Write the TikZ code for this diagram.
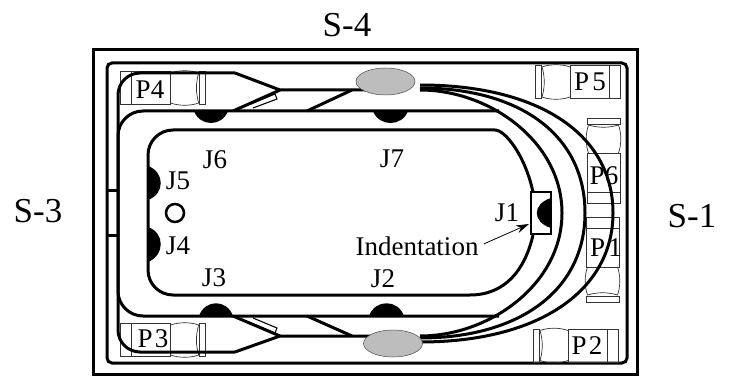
\documentclass[tikz,border=0pt]{standalone}
\usepackage{fontspec}
\setmainfont{Liberation Serif}
\usetikzlibrary{arrows.meta}
\definecolor{padgray}{HTML}{BDBDBD}
\tikzset{
	track/.style={line width=3pt},
	thinpart/.style={line width=0.7pt, black!80},
	smalllabel/.style={inner sep=0pt, font=\fontsize{27}{27}\selectfont},
	sidelabel/.style={inner sep=0pt, font=\fontsize{35}{35}\selectfont},
	pad/.style={draw=black!70, line width=0.5pt, fill=padgray}
}
\begin{document}
\begin{tikzpicture}[x=1pt,y=-1pt]
	\useasboundingbox (0,0) rectangle (729,377);
	% case
	\draw [track] (93,50) rectangle (637,374);
	\draw [track, rounded corners=5pt] (107,63) rectangle (627,363);
	\draw [track] (107,191) -- (118,191);
	\draw [track] (107,236) -- (118,236);
	% connectors
	\foreach \px/\py/\rot in {120.7/88/0, 120.7/340/0, 620/82/180, 618/345.5/180, 603.5/203/90, 602.5/217/270}{
		\begin{scope}[shift={(\px,\py)}, rotate=\rot]
			\draw [thinpart] (0,-16.5) rectangle (50,16.5);
			\draw [thinpart] (11,-16.5) -- (11,16.5);
			\draw [thinpart] (50,-15) .. controls (58,-18) and (70,-18) .. (78,-15) .. controls (75,-5) and (75,5) .. (78,15) .. controls (70,18) and (58,18) .. (50,15);
			\draw [thinpart] (79,-16.5) rectangle (85,16.5);
		\end{scope}
	}
	% tracks
	\draw [track, rounded corners=25pt] (533,192) .. controls (525,155) and (505,130) .. (470,130) -- (148,130) -- (148,295) -- (470,295);
	\draw [track] (470,295) .. controls (505,295) and (525,270) .. (533,235);
	\draw [track, rounded corners=25pt] (499,111) -- (118,111) -- (118,316) -- (499,316);
	\draw [track, rounded corners=22pt] (235,73) -- (118,73) -- (118,352) -- (235,352);
	\draw [track, line join=miter] (385,90) -- (280,90) -- (235,73);
	\draw [track, line join=miter] (393,336) -- (280,336) -- (235,352);
	\draw [track] (280,90) -- (233,111);
	\draw [track] (280,336) -- (233,316);
	\draw [track] (352,90) -- (307,111);
	\draw [track] (352,336) -- (307,316);
	\draw [line width=1.1pt] (251,104) -- (275,94) -- (277,99) -- (253,108);
	\draw [line width=1.1pt] (251,323) -- (275,333) -- (277,328) -- (253,318);
	% right hand curves
	\draw [track] (420,90) .. controls (490,90) and (562,142) .. (562,213) .. controls (562,284) and (490,336) .. (420,336);
	\draw [track] (420,88) .. controls (520,88) and (585,135) .. (585,213) .. controls (585,290) and (520,338) .. (420,338);
	\draw [track] (420,85) .. controls (540,85) and (613,135) .. (613,213) .. controls (613,290) and (540,342) .. (420,342);
	% pads
	\path [pad] (385.5,81.5) ellipse [x radius=29.5, y radius=13.5];
	\path [pad] (393,343.5) ellipse [x radius=29.5, y radius=13.5];
	% joints
	\fill (194,111) .. controls (200,127) and (222,127) .. (228,111) -- cycle;
	\fill (373,111) .. controls (379,127) and (402,127) .. (408,111) -- cycle;
	\fill (199,316) .. controls (205,299) and (227,299) .. (233,316) -- cycle;
	\fill (369,316) .. controls (375,299) and (398,299) .. (404,316) -- cycle;
	\fill (148,166) .. controls (165,172) and (165,194) .. (148,200) -- cycle;
	\fill (148,227) .. controls (165,233) and (165,255) .. (148,262) -- cycle;
	% indentation
	\draw [line width=2.7pt, fill=white] (531,192) rectangle (551,234);
	\fill (551,198) .. controls (532,204) and (532,222) .. (551,228) -- cycle;
	\draw [line width=2.5pt] (175,213) circle (9);
	% labels
	\node [smalllabel] (labelpfour) at (150,90) {P4};
	\node [smalllabel] (labelpthree) at (153,339) {P\kern2pt 3};
	\node [smalllabel] (labelpfive) at (590,82) {P\kern3pt 5};
	\node [smalllabel] (labelptwo) at (587,346) {P\kern2pt 2};
	\node [smalllabel] (labelpsix) at (604,176) {P6};
	\node [smalllabel] (labelpone) at (606,248) {P\kern3pt 1};
	\node [smalllabel] (labeljone) at (507,213) {J1};
	\node [smalllabel] (labeljtwo) at (383,279) {J2};
	\node [smalllabel] (labeljthree) at (214,278) {J3};
	\node [smalllabel] (labeljfour) at (178,246) {J4};
	\node [smalllabel] (labeljfive) at (178,181) {J5};
	\node [smalllabel] (labeljsix) at (215,160) {J6};
	\node [smalllabel] (labeljseven) at (392,159) {J7};
	\node [smalllabel] (indentation) at (417,246) {Indentation};
	\node [sidelabel] (sidefour) at (347,25) {S-4};
	\node [sidelabel] (sidethree) at (38,211) {S-3};
	\node [sidelabel] (sideone) at (692,216) {S-1};
	\coordinate (indenttip) at (529,224);
	\draw [line width=0.8pt, -{Stealth[length=13pt,width=8pt]}] (indentation.east) ++(5,-2) -- (indenttip);
\end{tikzpicture}
\end{document}
